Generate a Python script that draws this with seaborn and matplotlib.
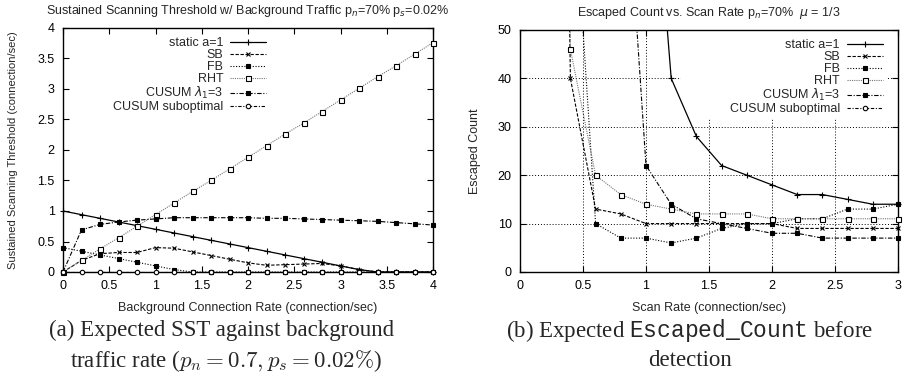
import numpy as np
import pandas as pd
import matplotlib
matplotlib.use("Agg")
import matplotlib.pyplot as plt
from matplotlib import ticker
from matplotlib.patches import Rectangle
from matplotlib.font_manager import FontProperties
import seaborn as sns

# ---------------- data: (a) sustained scanning threshold ----------------
bg_rate = [0.0, 0.2, 0.4, 0.6, 0.8, 1.0, 1.2, 1.4, 1.6, 1.8, 2.0,
           2.2, 2.4, 2.6, 2.8, 3.0, 3.2, 3.4, 3.6, 3.8, 4.0]
sst_static = [1.00, 0.94, 0.88, 0.82, 0.76, 0.70, 0.64, 0.58, 0.52, 0.46, 0.40,
              0.34, 0.28, 0.22, 0.16, 0.10, 0.04, 0.0, 0.0, 0.0, 0.0]
sst_sb = [0.0, 0.19, 0.30, 0.32, 0.32, 0.40, 0.39, 0.33, 0.27, 0.21, 0.15,
          0.11, 0.12, 0.13, 0.14, 0.10, 0.04, 0.0, 0.0, 0.0, 0.0]
sst_fb = [0.40, 0.34, 0.28, 0.22, 0.16, 0.10, 0.04, 0.0, 0.0, 0.0, 0.0,
          0.0, 0.0, 0.0, 0.0, 0.0, 0.0, 0.0, 0.0, 0.0, 0.0]
sst_rht = [0.0, 0.19, 0.38, 0.56, 0.75, 0.94, 1.13, 1.32, 1.50, 1.69, 1.88,
           2.07, 2.26, 2.44, 2.63, 2.82, 3.01, 3.20, 3.38, 3.57, 3.76]
sst_cusum = [0.0, 0.69, 0.78, 0.82, 0.85, 0.87, 0.89, 0.89, 0.89, 0.89, 0.89,
             0.88, 0.88, 0.87, 0.86, 0.85, 0.84, 0.83, 0.81, 0.79, 0.77]
sst_cusum_sub = [0.0] * 21

# ---------------- data: (b) escaped count ----------------
nan = np.nan
scan_rate = [0.2, 0.4, 0.6, 0.8, 1.0, 1.2, 1.4, 1.6, 1.8, 2.0, 2.2, 2.4, 2.6, 2.8, 3.0]
esc_static = [nan, nan, nan, nan, 105, 40, 28, 22, 20, 18, 16, 16, 15, 14, 14]
esc_sb = [400, 40, 13, 12, 10, 10, 10, 10, 10, 10, 9, 9, 9, 9, 9]
esc_fb = [nan, 90, 10, 7, 7, 6, 7, 9, 10, 10, 11, 11, 13, 13, 14]
esc_rht = [400, 46, 20, 16, 14, 13, 12, 12, 12, 11, 11, 11, 11, 11, 11]
esc_cusum = [nan, nan, nan, 100, 22, 14, 11, 10, 9, 8, 8, 7, 7, 7, 7]
esc_cusum_sub = [nan] * 15

labels = ["static a=1", "SB", "FB", "RHT", r"CUSUM $\lambda_1$=3", "CUSUM suboptimal"]

# line / marker styling per series (gnuplot-like monochrome)
styles = [
    dict(color="black", ls="-", marker="+", ms=4.5, mfc="black", lw=0.9),
    dict(color="black", ls=(0, (3, 1.5)), marker="x", ms=3.2, mfc="black", lw=0.8),
    dict(color="black", ls=(0, (1, 1.5)), marker="s", ms=2.6, mfc="black", lw=0.8),
    dict(color="#777777", ls=(0, (1, 1)), marker="s", ms=3.6, mfc="white", mec="black", lw=0.8),
    dict(color="black", ls=(0, (4, 1.5, 1, 1.5)), marker="s", ms=3.2, mfc="black", lw=0.8),
    dict(color="black", ls=(0, (3, 1.5, 1, 1.5)), marker="o", ms=3.2, mfc="white", mec="black", lw=0.8),
]

sns.set_theme(style="ticks")
plt.rcParams["font.family"] = ["Liberation Sans", "DejaVu Sans"]
plt.rcParams["axes.linewidth"] = 1.0
plt.rcParams["axes.edgecolor"] = "black"
# typewriter face for the monospaced identifier in caption (b)
plt.rcParams["mathtext.fontset"] = "custom"
plt.rcParams["mathtext.rm"] = "Liberation Serif"
plt.rcParams["mathtext.it"] = "Liberation Serif:italic"
plt.rcParams["mathtext.tt"] = "Liberation Mono"

fig = plt.figure(figsize=(9.09, 3.77), dpi=100)
ax1 = fig.add_axes([63 / 909, 1 - 272 / 377, 370 / 909, 244 / 377])
ax2 = fig.add_axes([520 / 909, 1 - 272 / 377, 378 / 909, 242 / 377])

FS = 9
mfam = "dejavusans"


def draw(ax, x, ys, ylim):
    for y, lab, st in zip(ys, labels, styles):
        df = pd.DataFrame({"x": x, "y": y}).dropna()
        sns.lineplot(data=df, x="x", y="y", ax=ax, estimator=None, sort=False,
                     legend=False, color=st["color"], linestyle=st["ls"],
                     linewidth=st["lw"])
        inside = df[(df["y"] >= ylim[0]) & (df["y"] <= ylim[1])]
        ax.plot(inside["x"], inside["y"], linestyle="none", marker=st["marker"],
                markersize=st["ms"], markerfacecolor=st["mfc"],
                markeredgecolor=st.get("mec", "black"), markeredgewidth=0.8,
                clip_on=False, zorder=3)
        # legend proxy combining line and marker
        ax.plot([], [], label=lab, color=st["color"], linestyle=st["ls"],
                linewidth=st["lw"], marker=st["marker"], markersize=st["ms"],
                markerfacecolor=st["mfc"], markeredgecolor=st.get("mec", "black"),
                markeredgewidth=0.8)


def style_axes(ax, xlim, ylim, xstep, ystep):
    ax.set_xlim(*xlim)
    ax.set_ylim(*ylim)
    ax.xaxis.set_major_locator(ticker.MultipleLocator(xstep))
    ax.yaxis.set_major_locator(ticker.MultipleLocator(ystep))
    ax.xaxis.set_major_formatter(ticker.FormatStrFormatter("%g"))
    ax.yaxis.set_major_formatter(ticker.FormatStrFormatter("%g"))
    ax.tick_params(direction="in", top=True, right=True, length=4, width=0.8,
                   labelsize=FS, pad=6, colors="black")
    for s in ax.spines.values():
        s.set_visible(True)
        s.set_color("black")
        s.set_linewidth(1.0)


legprop = FontProperties(family="Liberation Sans", size=FS, math_fontfamily=mfam)
legkw = dict(loc="upper right", markerfirst=False, prop=legprop, handlelength=2.9,
             handletextpad=0.55, labelspacing=0.0, borderpad=0.25)

# ---- (a)
draw(ax1, bg_rate, [sst_static, sst_sb, sst_fb, sst_rht, sst_cusum, sst_cusum_sub], (0, 4))
style_axes(ax1, (0, 4), (0, 4), 0.5, 0.5)
ax1.set_title(r"Sustained Scanning Threshold w/ Background Traffic p$_n$=70% p$_s$=0.02%",
              fontsize=FS, pad=10, math_fontfamily=mfam)
ax1.set_xlabel("Background Connection Rate (connection/sec)", fontsize=FS, labelpad=7)
ax1.set_ylabel("Sustained Scanning Threshold (connection/sec)", fontsize=8, labelpad=14)
leg1 = ax1.legend(bbox_to_anchor=(0.575, 1.0), frameon=False, **legkw)

# ---- (b)
ax2.grid(True, color="black", linestyle=(0, (1, 2)), linewidth=0.7)
ax2.set_axisbelow(True)
draw(ax2, scan_rate, [esc_static, esc_sb, esc_fb, esc_rht, esc_cusum, esc_cusum_sub], (0, 50))
style_axes(ax2, (0, 3), (0, 50), 0.5, 10)
ax2.set_title(r"Escaped Count vs. Scan Rate p$_n$=70%  $\mu$ = 1/3",
              fontsize=FS, pad=10, math_fontfamily=mfam)
ax2.set_xlabel("Scan Rate (connection/sec)", fontsize=FS, labelpad=7)
ax2.set_ylabel("Escaped Count", fontsize=FS, labelpad=12)
leg2 = ax2.legend(bbox_to_anchor=(0.985, 1.0), frameon=True, framealpha=1.0,
                  facecolor="white", edgecolor="none", fancybox=False, **legkw)
leg2.set_zorder(5)

# opaque key panel: gnuplot clears a box a bit wider than the key entries
fig.canvas.draw()
bb = leg2.get_window_extent().transformed(ax2.transAxes.inverted())
ax2.add_patch(Rectangle((bb.x0 - 0.12, bb.y0), bb.x1 - bb.x0 + 0.12, 1 - bb.y0,
                        transform=ax2.transAxes, facecolor="white", edgecolor="none",
                        zorder=1.5))

# ---- sub-figure captions (Times text, TeX-style math)
cap = dict(fontsize=16.5, family="Liberation Serif", ha="center", va="center")
fig.text(222 / 909, 1 - 330 / 377, "(a) Expected SST against background", **cap)
fig.text(226 / 909, 1 - 361 / 377, r"traffic rate ($p_n = 0.7, p_s = 0.02\%$)",
         math_fontfamily="cm", **cap)
fig.text(690 / 909, 1 - 330 / 377, r"(b) Expected $\mathtt{Escaped\_Count}$ before",
         math_fontfamily="custom", **cap)
fig.text(690 / 909, 1 - 361 / 377, "detection", **cap)

fig.savefig("out.png", dpi=100, facecolor="white")
